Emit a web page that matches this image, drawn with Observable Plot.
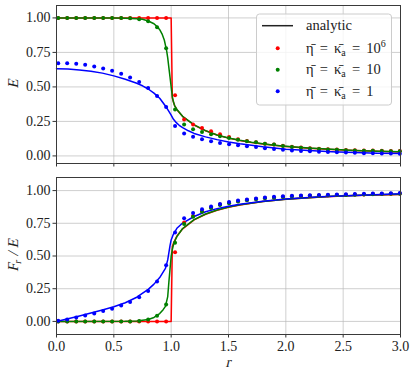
<!DOCTYPE html>
<html><head><meta charset="utf-8">
<script src="https://cdn.jsdelivr.net/npm/d3@7"></script>
<script src="https://cdn.jsdelivr.net/npm/@observablehq/plot@0.6"></script>
<style>
body{margin:0;background:#fff;}
#chart{width:415px;height:377px;position:relative;background:#fff;}
#chart svg{display:block;}
#chart svg, #chart svg text, #chart svg tspan{font-family:"Liberation Serif",serif !important;font-style:normal !important;}
</style></head><body><div id="chart"></div>
<script>
// ---------- data ----------
const xTicks = [0, 0.5, 1.0, 1.5, 2.0, 2.5, 3.0];
const yTicks = [0, 0.25, 0.5, 0.75, 1.0];
const seriesNames = ["red", "green", "blue"];
const seriesColors = ["#ff0000", "#008000", "#0000ff"];
const legendAnalytic = "analytic";
const legendValues = ["10", "10", "1"];
const legendSup = ["6", "", ""];

// numerical sample points
const rDots = [0.015,0.093,0.172,0.250,0.329,0.407,0.485,0.564,0.642,0.721,0.799,0.877,0.956,1.034,1.113,1.191,1.269,1.348,1.426,1.505,1.583,1.661,1.740,1.818,1.897,1.975,2.053,2.132,2.210,2.289,2.367,2.445,2.524,2.602,2.681,2.759,2.837,2.916,2.994];

// top panel: E (numerical)
const eDotsRed = [1,1,1,1,1,1,1,1,1,1,1,1,1,0.439,0.263,0.227,0.202,0.178,0.157,0.137,0.121,0.108,0.099,0.089,0.082,0.074,0.067,0.061,0.055,0.051,0.048,0.046,0.043,0.041,0.040,0.039,0.038,0.036,0.035];
const eDotsGreen = [1,1,1,1,1,1,1,1,0.997,0.990,0.976,0.932,0.781,0.337,0.227,0.193,0.173,0.157,0.142,0.130,0.118,0.106,0.099,0.089,0.082,0.072,0.065,0.059,0.054,0.050,0.047,0.044,0.041,0.039,0.038,0.037,0.035,0.034,0.033];
const eDotsBlue = [0.672,0.672,0.667,0.660,0.648,0.634,0.617,0.595,0.569,0.535,0.492,0.434,0.354,0.216,0.162,0.138,0.121,0.106,0.094,0.085,0.077,0.070,0.065,0.056,0.050,0.045,0.040,0.036,0.033,0.030,0.028,0.026,0.024,0.022,0.020,0.019,0.018,0.017,0.016];

// top panel: E (analytic)
const rRedLine = [0,0.5,1.0,1.01,1.02,1.03,1.05,1.1,1.2,1.3,1.4,1.5,1.6,1.7,1.8,1.9,2.0,2.2,2.4,2.6,2.8,3.0];
const eRedLine = [1,1,1,0.42,0.39,0.365,0.335,0.285,0.224,0.182,0.151,0.129,0.112,0.098,0.087,0.077,0.069,0.056,0.047,0.039,0.033,0.029];
const rGreenLine = [0,0.5,0.6,0.7,0.75,0.8,0.85,0.88,0.9,0.92,0.94,0.96,0.97,0.98,0.99,1.0,1.01,1.02,1.03,1.05,1.1,1.2,1.3,1.4,1.5,1.6,1.7,1.8,1.9,2.0,2.2,2.4,2.6,2.8,3.0];
const eGreenLine = [1,0.999,0.998,0.994,0.990,0.978,0.958,0.935,0.915,0.885,0.84,0.765,0.71,0.64,0.57,0.50,0.43,0.39,0.365,0.337,0.287,0.225,0.183,0.152,0.130,0.113,0.099,0.088,0.078,0.070,0.057,0.048,0.040,0.034,0.030];
const rBlueLine = [0,0.1,0.2,0.3,0.4,0.5,0.6,0.7,0.75,0.8,0.85,0.9,0.95,0.98,1.0,1.02,1.04,1.07,1.1,1.15,1.2,1.3,1.4,1.5,1.6,1.8,2.0,2.2,2.4,2.6,2.8,3.0];
const eBlueLine = [0.631,0.629,0.623,0.613,0.600,0.580,0.556,0.526,0.508,0.485,0.455,0.418,0.362,0.322,0.295,0.265,0.245,0.222,0.205,0.182,0.163,0.138,0.118,0.101,0.088,0.066,0.049,0.039,0.031,0.025,0.020,0.017];

// bottom panel: F_r/E (numerical)
const fDotsRed = [0,0,0,0,0,0,0,0,0,0,0,0,0,0.529,0.756,0.805,0.842,0.870,0.893,0.907,0.919,0.928,0.936,0.943,0.948,0.953,0.956,0.959,0.961,0.963,0.965,0.967,0.968,0.970,0.971,0.973,0.974,0.976,0.977];
const fDotsGreen = [0,0,0,0,0,0,0,0,0,0.004,0.015,0.043,0.130,0.602,0.745,0.800,0.838,0.866,0.889,0.904,0.917,0.926,0.934,0.941,0.946,0.951,0.955,0.958,0.960,0.962,0.964,0.966,0.967,0.969,0.970,0.972,0.973,0.975,0.976];
const fDotsBlue = [0.005,0.015,0.030,0.046,0.061,0.079,0.097,0.122,0.148,0.184,0.232,0.306,0.429,0.679,0.789,0.828,0.858,0.878,0.897,0.912,0.924,0.932,0.940,0.947,0.952,0.957,0.960,0.963,0.965,0.967,0.969,0.971,0.972,0.974,0.975,0.977,0.978,0.980,0.981];

// bottom panel: F_r/E (analytic)
const rRedF = [0,1.0,1.01,1.02,1.035,1.05,1.1,1.2,1.3,1.4,1.5,1.6,1.8,2.0,2.2,2.4,2.6,2.8,3.0];
const fRedLine = [0,0,0.57,0.598,0.625,0.653,0.708,0.776,0.819,0.850,0.873,0.890,0.916,0.933,0.945,0.955,0.962,0.967,0.971];
const rGreenF = [0,0.6,0.7,0.8,0.85,0.9,0.93,0.95,0.97,0.98,0.99,1.0,1.01,1.02,1.035,1.05,1.1,1.2,1.3,1.4,1.5,1.6,1.8,2.0,2.2,2.4,2.6,2.8,3.0];
const fGreenLine = [0,0.001,0.004,0.015,0.03,0.06,0.09,0.115,0.19,0.3,0.4,0.495,0.55,0.585,0.62,0.648,0.71,0.778,0.821,0.851,0.874,0.891,0.917,0.934,0.946,0.956,0.963,0.968,0.972];
const rBlueF = [0,0.1,0.2,0.3,0.4,0.5,0.6,0.7,0.8,0.85,0.9,0.95,0.97,0.99,1.0,1.02,1.05,1.1,1.2,1.3,1.4,1.5,1.6,1.8,2.0,2.3,2.6,3.0];
const fBlueLine = [0,0.02,0.042,0.064,0.087,0.112,0.143,0.185,0.245,0.285,0.335,0.405,0.47,0.58,0.623,0.668,0.712,0.752,0.802,0.838,0.862,0.881,0.896,0.918,0.935,0.952,0.963,0.975];

// ---------- build ----------
const pts = (rs, vs) => rs.map((r, i) => ({r, v: vs[i]}));
const FONT = "Liberation Serif";
const FS = 14;
const gridStyle = {stroke: "#b8b8b8", strokeOpacity: 0.75, strokeWidth: 0.9};

function panel(opts) {
  const {height, marginTop, marginBottom, yDomain, lines, dots, showX} = opts;
  const marks = [
    Plot.gridX(xTicks, {...gridStyle}),
    Plot.gridY(yTicks, {...gridStyle}),
  ];
  lines.forEach((d, k) => marks.push(Plot.line(d, {x: "r", y: "v", stroke: seriesColors[k], strokeWidth: 1.5})));
  dots.forEach((d, k) => marks.push(Plot.dot(d, {x: "r", y: "v", fill: seriesColors[k], stroke: "none", r: 2})));
  marks.push(
    Plot.axisX(xTicks, {tickSize: 3.5, tickPadding: 3, stroke: "#333", tickFormat: showX ? d3.format(".1f") : () => "", label: null, fontSize: FS}),
    Plot.axisY(yTicks, {tickSize: 3.5, tickPadding: 2.5, stroke: "#333", tickFormat: d3.format(".2f"), label: null, fontSize: FS}),
    Plot.frame({stroke: "#3a3a3a", strokeWidth: 1})
  );
  const svg = Plot.plot({
    width: 415, height, marginLeft: 56, marginRight: 15, marginTop, marginBottom,
    style: {fontFamily: FONT, fontSize: FS + "px", color: "#222", background: "white", overflow: "visible"},
    x: {domain: [0, 3]},
    y: {domain: yDomain},
    marks
  });
  d3.select(svg).selectAll("text").attr("font-family", FONT);
  return svg;
}

const topSvg = panel({
  height: 170, marginTop: 5, marginBottom: 7, yDomain: [-0.055, 1.09], showX: false,
  lines: [pts(rRedLine, eRedLine), pts(rGreenLine, eGreenLine), pts(rBlueLine, eBlueLine)],
  dots: [pts(rDots, eDotsRed), pts(rDots, eDotsGreen), pts(rDots, eDotsBlue)]
});
const botSvg = panel({
  height: 207, marginTop: 7, marginBottom: 43, yDomain: [-0.1, 1.1], showX: true,
  lines: [pts(rRedF, fRedLine), pts(rGreenF, fGreenLine), pts(rBlueF, fBlueLine)],
  dots: [pts(rDots, fDotsRed), pts(rDots, fDotsGreen), pts(rDots, fDotsBlue)]
});

const chart = document.getElementById("chart");
chart.appendChild(topSvg);
chart.appendChild(botSvg);

// slanted (math-italic look) text using the upright serif face with a skew
function slanted(sel, x, y, str, size, rotate) {
  return sel.append("text")
    .attr("transform", `translate(${x},${y})${rotate ? " rotate(-90)" : ""} skewX(-13)`)
    .attr("text-anchor", "middle").attr("font-family", FONT).attr("font-size", size).attr("fill", "#222").text(str);
}

// y label top: E
const t = d3.select(topSvg);
slanted(t, 18, 84, "E", 15, true);

// legend
const lg = t.append("g").attr("text-anchor", "start");
lg.append("rect").attr("x", 256.5).attr("y", 14).attr("width", 135).attr("height", 91).attr("rx", 3)
  .attr("fill", "white").attr("fill-opacity", 0.8).attr("stroke", "#cccccc").attr("stroke-width", 1);
lg.append("line").attr("x1", 262).attr("x2", 293).attr("y1", 25.7).attr("y2", 25.7).attr("stroke", "#222").attr("stroke-width", 1.5);
lg.append("text").attr("x", 306).attr("y", 30).attr("text-anchor", "start").attr("font-family", FONT).attr("font-size", 14.5).attr("fill", "#222").text(legendAnalytic);
const rowY = [48.3, 69.8, 91.3];
seriesColors.forEach((c, k) => {
  lg.append("circle").attr("cx", 277.7).attr("cy", rowY[k]).attr("r", 2).attr("fill", c);
  const tx = lg.append("text").attr("x", 306).attr("y", rowY[k] + 4.5).attr("text-anchor", "start")
    .attr("font-family", FONT).attr("font-size", 14.5).attr("fill", "#222").style("word-spacing", "2.5px");
  tx.append("tspan").text("\u03B7\u0304 = \u03BA\u0304");
  tx.append("tspan").attr("font-size", 10).attr("dy", 3).text("a");
  tx.append("tspan").attr("dy", -3).text(" = " + legendValues[k]);
  if (legendSup[k]) tx.append("tspan").attr("font-size", 10).attr("dy", -6).text(legendSup[k]);
});

// bottom labels
const b = d3.select(botSvg);
const yl = b.append("text").attr("transform", "translate(18,85.5) rotate(-90) skewX(-13)").attr("text-anchor", "middle")
  .attr("font-family", FONT).attr("font-size", 15).attr("fill", "#222");
yl.append("tspan").text("F");
yl.append("tspan").attr("font-size", 10.5).attr("dy", 3).text("r");
yl.append("tspan").attr("dy", -3).text(" / E");
slanted(b, 228, 197, "r", 15, false);
</script>
</body></html>
